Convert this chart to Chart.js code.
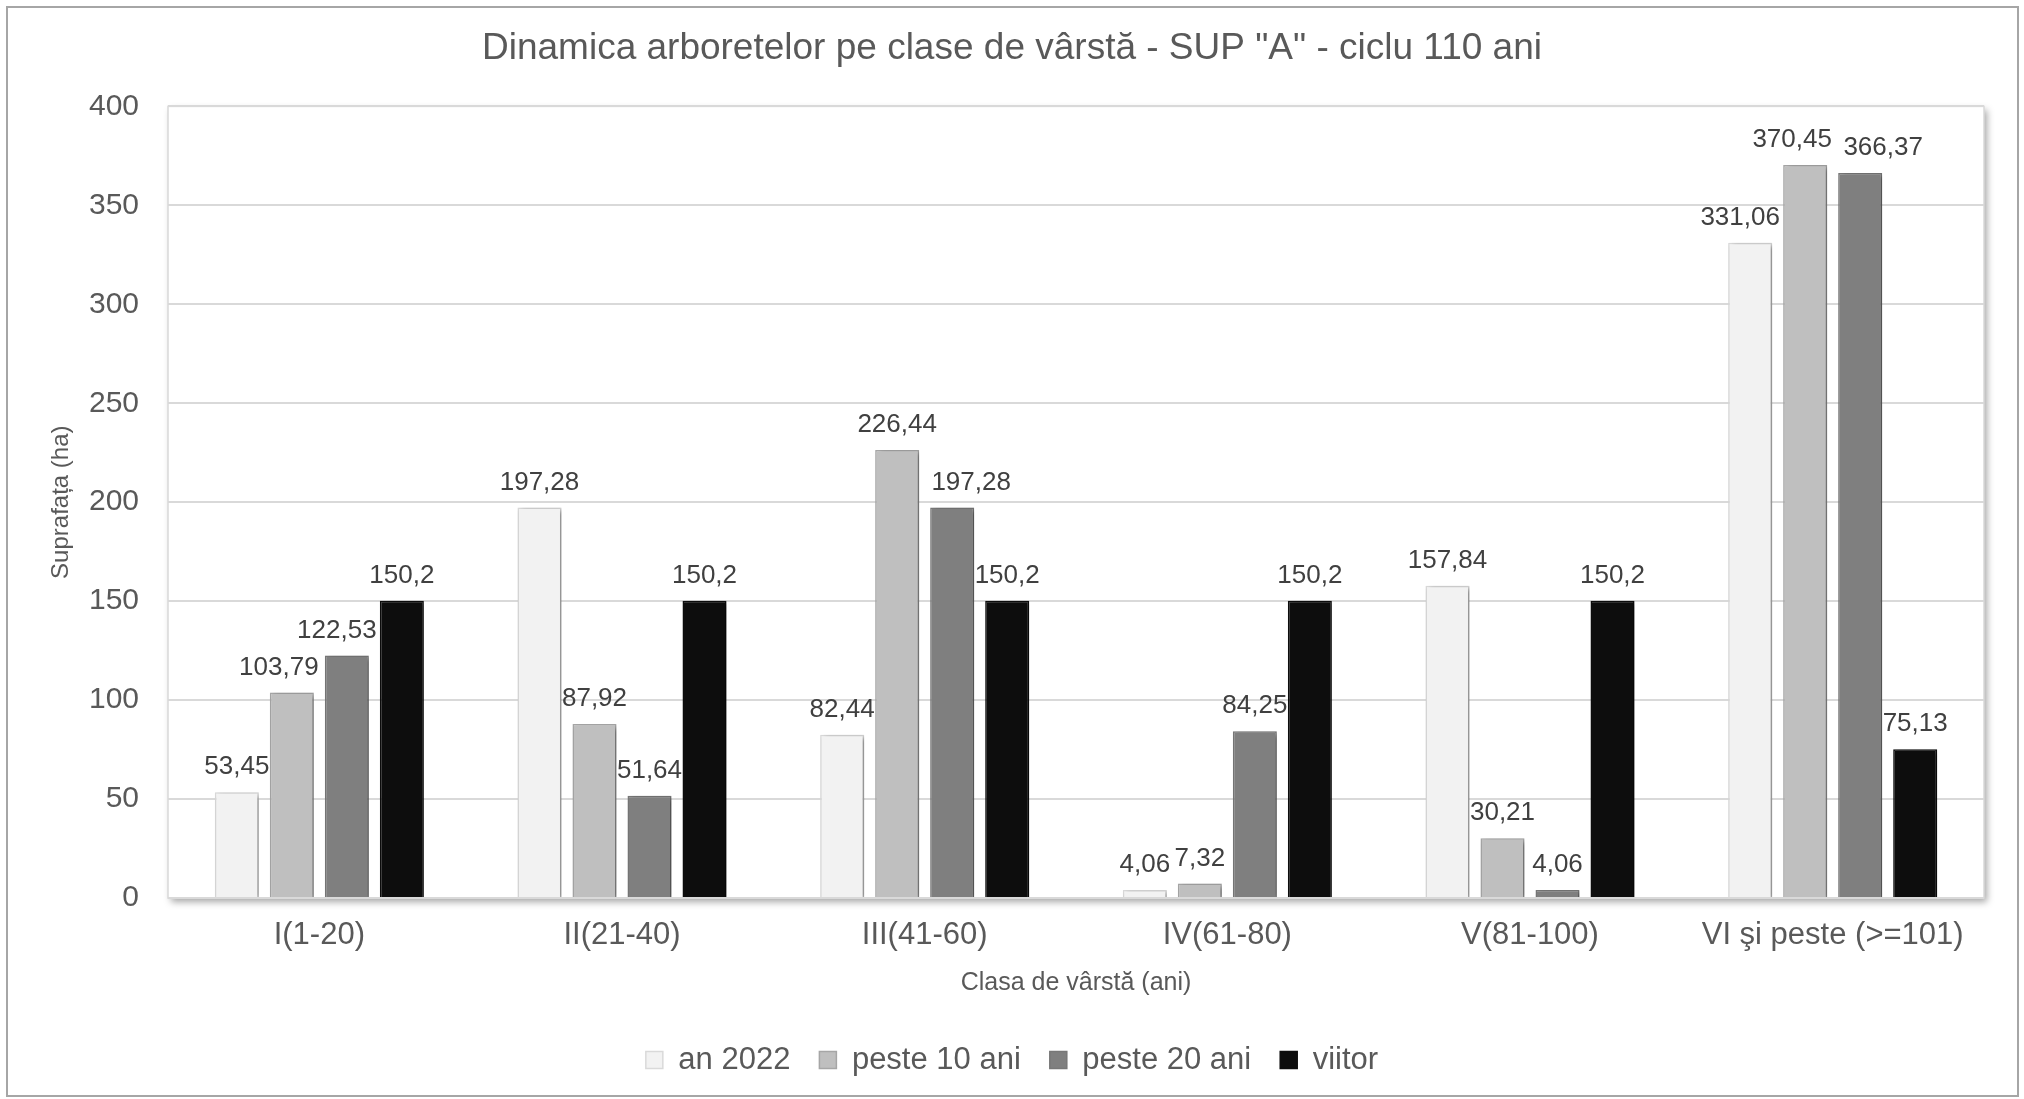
<!DOCTYPE html>
<html>
<head>
<meta charset="utf-8">
<title>Dinamica arboretelor pe clase de vârstă</title>
<script src="https://cdn.jsdelivr.net/npm/chart.js@4.4.1/dist/chart.umd.min.js"></script>
<style>
  html, body { margin: 0; padding: 0; background: #fff; overflow: hidden; }
  canvas { display: block; }
</style>
</head>
<body>
<canvas id="ageChart" width="2024" height="1099"></canvas>
<script>
const ageClasses = ['I(1-20)', 'II(21-40)', 'III(41-60)', 'IV(61-80)', 'V(81-100)', 'VI şi peste (>=101)'];
const seriesNames = ['an 2022', 'peste 10 ani', 'peste 20 ani', 'viitor'];
const an2022 = [53.45, 197.28, 82.44, 4.06, 157.84, 331.06];
const peste10 = [103.79, 87.92, 226.44, 7.32, 30.21, 370.45];
const peste20 = [122.53, 51.64, 197.28, 84.25, 4.06, 366.37];
const viitor = [150.2, 150.2, 150.2, 150.2, 150.2, 75.13];
const yMin = 0;
const yMax = 400;
const yStep = 50;

const fills = ['#f2f2f2', '#bfbfbf', '#7f7f7f', '#0d0d0d'];
const borders = ['#d9d9d9', '#a6a6a6', '#777777', '#0d0d0d'];
const textColor = '#595959';

// labels that were moved sideways in the original so they don't collide ("dataset:index" -> px)
const labelNudge = { '1:0': -13, '2:0': -10, '2:2': 19, '0:5': -10, '1:5': -13, '2:5': 23 };

Chart.defaults.font.family = '"Liberation Sans", Arial, sans-serif';

// white page, outer frame and the plot area box with its shadow
const frame = {
  id: 'frame',
  beforeDraw(chart) {
    const { ctx, chartArea: a, width, height } = chart;
    ctx.save();
    ctx.fillStyle = '#fff';
    ctx.fillRect(0, 0, width, height);
    ctx.strokeStyle = '#a6a6a6';
    ctx.lineWidth = 2;
    ctx.strokeRect(7, 7, width - 13, height - 10);
    ctx.shadowColor = 'rgba(0,0,0,0.35)';
    ctx.shadowBlur = 7;
    ctx.shadowOffsetX = 3;
    ctx.shadowOffsetY = 4;
    ctx.fillRect(a.left, a.top, a.width, a.height);
    ctx.shadowColor = 'transparent';
    ctx.strokeStyle = '#d9d9d9';
    ctx.lineWidth = 1.5;
    ctx.strokeRect(a.left, a.top, a.width, a.height);
    ctx.restore();
  }
};

const barShadow = {
  id: 'barShadow',
  beforeDatasetDraw(chart) {
    const c = chart.ctx;
    c.save();
    c.shadowColor = 'rgba(0,0,0,0.4)';
    c.shadowBlur = 5;
    c.shadowOffsetX = 3;
    c.shadowOffsetY = 2;
  },
  afterDatasetDraw(chart) {
    chart.ctx.restore();
  }
};

const valueLabels = {
  id: 'valueLabels',
  afterDatasetsDraw(chart) {
    const { ctx } = chart;
    ctx.save();
    ctx.font = '26px "Liberation Sans", Arial, sans-serif';
    ctx.fillStyle = '#404040';
    ctx.textAlign = 'center';
    ctx.textBaseline = 'alphabetic';
    chart.data.datasets.forEach((ds, i) => {
      chart.getDatasetMeta(i).data.forEach((bar, j) => {
        const dx = labelNudge[i + ':' + j] || 0;
        ctx.fillText(String(ds.data[j]).replace('.', ','), bar.x + dx, bar.y - 18);
      });
    });
    ctx.restore();
  }
};

const seriesData = [an2022, peste10, peste20, viitor];

new Chart(document.getElementById('ageChart'), {
  type: 'bar',
  data: {
    labels: ageClasses,
    datasets: seriesNames.map((name, i) => ({
      label: name,
      data: seriesData[i],
      backgroundColor: fills[i],
      borderColor: borders[i],
      borderWidth: 1.5,
      categoryPercentage: 0.727,
      barPercentage: 0.8
    }))
  },
  options: {
    responsive: false,
    devicePixelRatio: 1,
    animation: false,
    layout: { padding: { left: 30, right: 30, top: 0, bottom: 13.5 } },
    plugins: {
      title: {
        display: true,
        text: 'Dinamica arboretelor pe clase de vârstă - SUP "A" - ciclu 110 ani',
        color: textColor,
        font: { size: 37, weight: 'normal' },
        padding: { top: 27, bottom: 35 }
      },
      legend: {
        position: 'bottom',
        labels: { color: textColor, font: { size: 31 }, boxWidth: 17, boxHeight: 17, padding: 29 }
      },
      tooltip: { enabled: false }
    },
    scales: {
      x: {
        grid: { display: false, drawTicks: false },
        border: { display: false },
        ticks: { color: textColor, font: { size: 31 }, padding: 19, maxRotation: 0, autoSkip: false },
        title: {
          display: true,
          text: 'Clasa de vârstă (ani)',
          color: textColor,
          font: { size: 25 },
          padding: { top: 0, bottom: 17.5 }
        },
        afterFit(s) { s.height = 117.5; }
      },
      y: {
        min: yMin,
        max: yMax,
        ticks: { stepSize: yStep, color: textColor, font: { size: 30 }, padding: 29 },
        grid: { color: '#d9d9d9', lineWidth: 2, drawTicks: false },
        border: { display: false },
        title: {
          display: true,
          text: 'Suprafața (ha)',
          color: textColor,
          font: { size: 24 },
          padding: { top: 17, bottom: 0 }
        },
        afterFit(s) { s.width = 138; }
      },
      // empty strip on the right so the plot ends where the original's does
      yRight: {
        position: 'right',
        grid: { display: false, drawTicks: false },
        border: { display: false },
        ticks: { display: false },
        afterFit(s) { s.width = 10; }
      }
    }
  },
  plugins: [frame, barShadow, valueLabels]
});
</script>
</body>
</html>
